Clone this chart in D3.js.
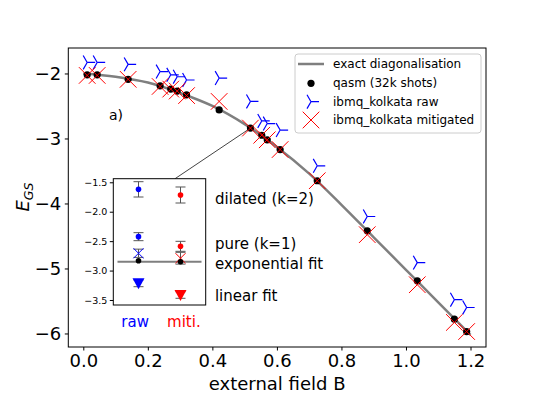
<!DOCTYPE html>
<html>
<head>
<meta charset="utf-8">
<title>Ground state energy</title>
<style>
  body { margin: 0; background: #fff; }
  svg { display: block; font-family: 'DejaVu Sans', sans-serif; }
</style>
<script src="https://d3js.org/d3.v7.min.js"></script>
</head>
<body>
<div id="chart"></div>
<script>
// ******* Data *******
const fieldB = [0.012, 0.043, 0.139, 0.238, 0.271, 0.291, 0.320, 0.421, 0.518, 0.553,
                0.570, 0.610, 0.725, 0.880, 1.035, 1.150, 1.188];
const qasmE  = [-2.02, -2.02, -2.09, -2.19, -2.24, -2.27, -2.33, -2.56, -2.84, -2.95,
                -3.02, -3.17, -3.65, -4.42, -5.19, -5.78, -5.97];
const rawE   = [-1.83, -1.83, -1.86, -1.97, -2.02, -2.05, -2.10, -2.07, -2.43, -2.73,
                -2.77, -2.87, -3.42, -4.20, -4.91, -5.48, -5.60];
const mitiE  = [-2.03, -2.03, -2.09, -2.20, -2.24, -2.27, -2.34, -2.43, -2.84, -2.95,
                -3.02, -3.17, -3.65, -4.48, -5.25, -5.83, -5.97];

const exactB = [0, 0.1, 0.2, 0.3, 0.4, 0.5, 0.6, 0.7, 0.8, 0.9, 1.0, 1.1, 1.2];
const exactE = [-2.00, -2.05, -2.14, -2.30, -2.50, -2.78, -3.13, -3.54, -4.02, -4.52, -5.02, -5.52, -6.02];

const xTicks = [0, 0.2, 0.4, 0.6, 0.8, 1.0, 1.2];
const yTicks = [-2, -3, -4, -5, -6];

// inset: columns raw (0) and mitigated (1), zoomed at B = 0.518
const insetCols  = [0, 1];
const insetNames = ["raw", "miti."];
const insetColors = ["#0000ff", "#ff0000"];
const dilatedE  = [-1.620, -1.716], dilatedErr = [0.130, 0.136];
const pureE     = [-2.424, -2.588], pureErr    = [0.068, 0.085];
const expFitE   = [-2.706, -2.790], expFitErr  = [0.070, 0.100];
const qasmFitE  = [-2.832, -2.849];
const linFitE   = [-3.217, -3.415], linFitErr  = [0.057, 0.056];
const exactInset = -2.85;
const insetTicks = [-1.5, -2.0, -2.5, -3.0, -3.5];
const insetLabels = [
  {text: "dilated (k=2)", y: -1.78},
  {text: "pure (k=1)", y: -2.545},
  {text: "exponential fit", y: -2.885},
  {text: "linear fit", y: -3.43}
];
const zoomPoint = {B: 0.518, E: -2.84};

// ******* Setup *******
const width = 540, height = 396;
const fmtMinus = s => s.replace("-", "\u2212");

const svg = d3.select("#chart").append("svg")
    .attr("width", width)
    .attr("height", height);

const x = d3.scaleLinear().domain([-0.0465, 1.248]).range([68.3, 486]);
const y = d3.scaleLinear().domain([-6.208, -1.608]).range([347, 48]);

// axes
svg.append("g")
    .attr("transform", `translate(0,${y.range()[0]})`)
    .call(d3.axisBottom(x).tickValues(xTicks).tickFormat(d3.format(".1f")).tickSizeOuter(0).tickSize(3.5).tickPadding(3.5))
    .call(g => g.selectAll("text").attr("font-size", 18).attr("font-family", "DejaVu Sans"))
    .call(g => g.select(".domain").remove());

svg.append("g")
    .attr("transform", `translate(${x.range()[0]},0)`)
    .call(d3.axisLeft(y).tickValues(yTicks).tickFormat(d => fmtMinus(String(d))).tickSizeOuter(0).tickSize(3.5).tickPadding(3.5))
    .call(g => g.selectAll("text").attr("font-size", 18).attr("font-family", "DejaVu Sans"))
    .call(g => g.select(".domain").remove());

// frame
svg.append("rect")
    .attr("x", x.range()[0]).attr("y", y.range()[1])
    .attr("width", x.range()[1] - x.range()[0])
    .attr("height", y.range()[0] - y.range()[1])
    .attr("fill", "none").attr("stroke", "#000").attr("stroke-width", 1);

// axis labels
svg.append("text")
    .attr("x", (x.range()[0] + x.range()[1]) / 2)
    .attr("y", 390)
    .attr("text-anchor", "middle")
    .attr("font-size", 18)
    .text("external field B");

const ylab = svg.append("text")
    .attr("transform", "translate(29,197) rotate(-90)")
    .attr("text-anchor", "middle")
    .attr("font-size", 18)
    .attr("font-style", "italic");
ylab.append("tspan").text("E");
ylab.append("tspan").attr("font-size", 12.6).attr("dy", 4).text("GS");

// ******* Main plot *******
const line = d3.line()
    .x((d, i) => x(exactB[i]))
    .y(d => y(d))
    .curve(d3.curveMonotoneX);

svg.append("path")
    .datum(exactE)
    .attr("d", line)
    .attr("fill", "none")
    .attr("stroke", "#7f7f7f")
    .attr("stroke-width", 2.5);

// connector from the zoomed point to the inset
const ix = d3.scaleLinear().domain([-0.6, 1.6]).range([113.3, 205.7]);
const iy = d3.scaleLinear().domain([-3.585, -1.439]).range([305, 178.7]);

svg.append("line")
    .attr("x1", x(zoomPoint.B)).attr("y1", y(zoomPoint.E))
    .attr("x2", ix(0.87)).attr("y2", iy.range()[1])
    .attr("stroke", "#444").attr("stroke-width", 1);

const triRight = r => `M0,0L${r},0M0,0L${-r/2},${-r*0.866}M0,0L${-r/2},${r*0.866}`;
const cross = r => `M${-r},${-r}L${r},${r}M${-r},${r}L${r},${-r}`;

svg.selectAll("circle.qasm")
    .data(qasmE)
    .enter().append("circle")
    .attr("class", "qasm")
    .attr("cx", (d, i) => x(fieldB[i]))
    .attr("cy", d => y(d))
    .attr("r", 3.6)
    .attr("fill", "#000");

svg.selectAll("path.raw")
    .data(rawE)
    .enter().append("path")
    .attr("class", "raw")
    .attr("transform", (d, i) => `translate(${x(fieldB[i])},${y(d)})`)
    .attr("d", triRight(8))
    .attr("fill", "none")
    .attr("stroke", "#0000ff")
    .attr("stroke-width", 1.2);

svg.selectAll("path.miti")
    .data(mitiE)
    .enter().append("path")
    .attr("class", "miti")
    .attr("transform", (d, i) => `translate(${x(fieldB[i])},${y(d)})`)
    .attr("d", cross(8.3))
    .attr("fill", "none")
    .attr("stroke", "#ff0000")
    .attr("stroke-width", 1);

svg.append("text")
    .attr("x", 109).attr("y", 120)
    .attr("font-size", 14)
    .text("a)");

// ******* Legend *******
const legend = svg.append("g");
legend.append("rect")
    .attr("x", 295).attr("y", 54)
    .attr("width", 186).attr("height", 79)
    .attr("rx", 3)
    .attr("fill", "#fff").attr("fill-opacity", 0.8)
    .attr("stroke", "#cccccc");

const legendRows = [
  {label: "exact diagonalisation", kind: "line"},
  {label: "qasm (32k shots)", kind: "dot"},
  {label: "ibmq_kolkata raw", kind: "tri"},
  {label: "ibmq_kolkata mitigated", kind: "cross"}
];
const legendY = [64, 83.3, 101.7, 120];

legendRows.forEach((row, i) => {
  const g = legend.append("g").attr("transform", `translate(311,${legendY[i]})`);
  if (row.kind === "line") {
    g.append("line").attr("x1", -13).attr("x2", 13)
      .attr("stroke", "#7f7f7f").attr("stroke-width", 2.5);
  } else if (row.kind === "dot") {
    g.append("circle").attr("r", 3.6).attr("fill", "#000");
  } else if (row.kind === "tri") {
    g.append("path").attr("d", triRight(8)).attr("fill", "none")
      .attr("stroke", "#0000ff").attr("stroke-width", 1.2);
  } else {
    g.append("path").attr("d", cross(8.3)).attr("fill", "none")
      .attr("stroke", "#ff0000").attr("stroke-width", 1);
  }
  legend.append("text")
    .attr("x", 333).attr("y", legendY[i])
    .attr("dominant-baseline", "central")
    .attr("font-size", 12)
    .text(row.label);
});

// ******* Inset *******
const inset = svg.append("g");
inset.append("rect")
    .attr("x", ix.range()[0]).attr("y", iy.range()[1])
    .attr("width", ix.range()[1] - ix.range()[0])
    .attr("height", iy.range()[0] - iy.range()[1])
    .attr("fill", "#fff");

inset.append("g")
    .attr("transform", `translate(${ix.range()[0]},0)`)
    .call(d3.axisLeft(iy).tickValues(insetTicks).tickFormat(d => fmtMinus(d3.format(".1f")(d))).tickSizeOuter(0).tickSize(3.5).tickPadding(2.5))
    .call(g => g.selectAll("text").attr("font-size", 9.5).attr("font-family", "DejaVu Sans"))
    .call(g => g.select(".domain").remove());

inset.append("line")
    .attr("x1", ix(-0.5)).attr("x2", ix(1.5))
    .attr("y1", iy(exactInset)).attr("y2", iy(exactInset))
    .attr("stroke", "#7f7f7f").attr("stroke-width", 2);

function errorBars(vals, errs) {
  insetCols.forEach((c, i) => {
    const cx = ix(c), lo = iy(vals[i] - errs[i]), hi = iy(vals[i] + errs[i]);
    const g = inset.append("g").attr("stroke", "#555").attr("stroke-width", 1);
    g.append("line").attr("x1", cx).attr("x2", cx).attr("y1", lo).attr("y2", hi);
    g.append("line").attr("x1", cx - 5).attr("x2", cx + 5).attr("y1", lo).attr("y2", lo);
    g.append("line").attr("x1", cx - 5).attr("x2", cx + 5).attr("y1", hi).attr("y2", hi);
  });
}
errorBars(dilatedE, dilatedErr);
errorBars(pureE, pureErr);
errorBars(expFitE, expFitErr);
errorBars(linFitE, linFitErr);

[dilatedE, pureE].forEach(vals => {
  inset.selectAll(null)
    .data(vals)
    .enter().append("circle")
    .attr("cx", (d, i) => ix(insetCols[i]))
    .attr("cy", d => iy(d))
    .attr("r", 2.8)
    .attr("fill", (d, i) => insetColors[i]);
});

inset.selectAll(null)
    .data(expFitE)
    .enter().append("path")
    .attr("transform", (d, i) => `translate(${ix(insetCols[i])},${iy(d)})`)
    .attr("d", cross(5))
    .attr("fill", "none")
    .attr("stroke", (d, i) => insetColors[i])
    .attr("stroke-width", 1);

inset.selectAll(null)
    .data(qasmFitE)
    .enter().append("circle")
    .attr("cx", (d, i) => ix(insetCols[i]))
    .attr("cy", d => iy(d))
    .attr("r", 2.8)
    .attr("fill", "#000");

inset.selectAll(null)
    .data(linFitE)
    .enter().append("path")
    .attr("transform", (d, i) => `translate(${ix(insetCols[i])},${iy(d)})`)
    .attr("d", "M-6,-5L6,-5L0,6Z")
    .attr("fill", (d, i) => insetColors[i]);

inset.append("rect")
    .attr("x", ix.range()[0]).attr("y", iy.range()[1])
    .attr("width", ix.range()[1] - ix.range()[0])
    .attr("height", iy.range()[0] - iy.range()[1])
    .attr("fill", "none").attr("stroke", "#000").attr("stroke-width", 1);

inset.selectAll("text.lab")
    .data(insetLabels)
    .enter().append("text")
    .attr("class", "lab")
    .attr("x", ix(1.82))
    .attr("y", d => iy(d.y))
    .attr("dominant-baseline", "central")
    .attr("font-size", 15)
    .text(d => d.text);

inset.selectAll("text.col")
    .data(insetNames)
    .enter().append("text")
    .attr("class", "col")
    .attr("x", (d, i) => ix([-0.08, 1.08][i]))
    .attr("y", iy(-3.87))
    .attr("text-anchor", "middle")
    .attr("dominant-baseline", "central")
    .attr("font-size", 15)
    .attr("fill", (d, i) => insetColors[i])
    .text(d => d);
</script>
</body>
</html>
